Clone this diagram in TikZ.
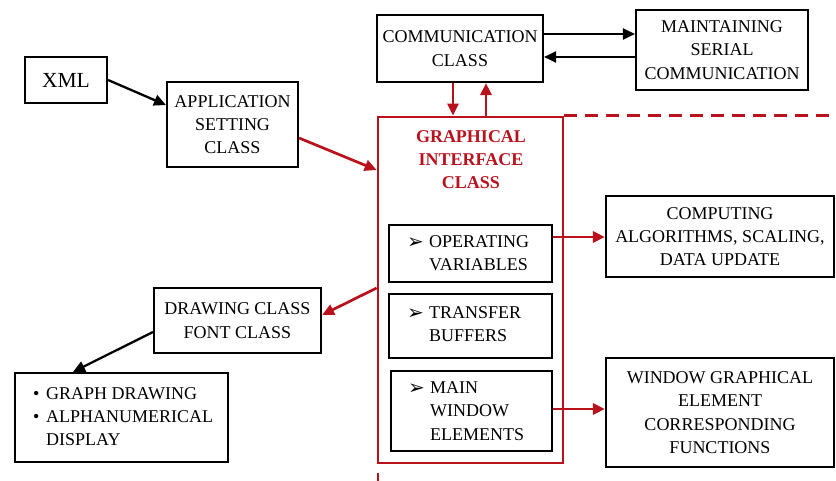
\documentclass[tikz,border=0pt]{standalone}
\usepackage{fontspec}
\setmainfont{Liberation Serif}
\newfontfamily\dejavu{DejaVu Sans}
\usetikzlibrary{arrows.meta}
\definecolor{dred}{RGB}{185,18,28}
\newcommand{\arrbul}{\raisebox{-1pt}{\dejavu\fontsize{20}{20}\selectfont ➢}}
\begin{document}
\begin{tikzpicture}[x=1pt,y=-1pt,
  txtfont/.style={font=\fontsize{18}{23.3}\selectfont},
  box/.style={draw=black, line width=2.1pt, align=center, inner sep=0pt, txtfont},
  redbox/.style={draw=dred, line width=2.7pt, inner sep=0pt},
  lbl/.style={inner sep=0pt, align=left, anchor=west, txtfont},
  blk/.style={draw=black, line width=2.3pt, -{Triangle[length=12pt,width=11pt]}},
  rd/.style={draw=dred, line width=2.7pt, -{Triangle[length=12pt,width=11pt]}},
]
\useasboundingbox (0,0) rectangle (836,481);

% boxes
\node[box, minimum width=82, minimum height=46, font=\fontsize{21.5}{24}\selectfont] (xml) at (66,80) {XML};
\node[box, minimum width=131, minimum height=85] (app) at (232.5,124.5) {APPLICATION\\SETTING\\CLASS};
\node[box, minimum width=166, minimum height=67] (comm) at (460,48.5) {COMMUNICATION\\CLASS};
\node[box, minimum width=172, minimum height=80] (maint) at (722,50) {MAINTAINING\\SERIAL\\COMMUNICATION};
\node[redbox, minimum width=185, minimum height=346] (gic) at (470.5,290) {};
\node[inner sep=0pt, align=center, text=dred, font=\fontsize{18}{23}\selectfont\bfseries] (gict) at (471,160) {GRAPHICAL\\INTERFACE\\CLASS};
\node[box, minimum width=163, minimum height=57] (op) at (470.5,253.5) {};
\node[box, minimum width=163, minimum height=64] (tb) at (470.5,326) {};
\node[box, minimum width=161, minimum height=80] (mw) at (471.5,411) {};
\node[lbl] (opt) at ([xshift=19pt]op.west) {\makebox[22pt][l]{\arrbul}OPERATING\\\hspace*{22pt}VARIABLES};
\node[lbl] (tbt) at ([xshift=19pt,yshift=2pt]tb.west) {\makebox[22pt][l]{\arrbul}TRANSFER\\\hspace*{22pt}BUFFERS};
\node[lbl] (mwt) at ([xshift=18pt]mw.west) {\makebox[22pt][l]{\arrbul}MAIN\\\hspace*{22pt}WINDOW\\\hspace*{22pt}ELEMENTS};
\node[box, minimum width=228, minimum height=81] (comp) at (720,236.5) {COMPUTING\\ALGORITHMS, SCALING,\\DATA UPDATE};
\node[box, minimum width=228, minimum height=109] (wg) at (720,412.5) {WINDOW GRAPHICAL\\ELEMENT\\CORRESPONDING\\FUNCTIONS};
\node[box, minimum width=167, minimum height=65] (draw) at (237.5,320.5) {DRAWING CLASS\\FONT CLASS};
\node[box, minimum width=213, minimum height=89] (gd) at (121.5,417.5) {};
\node[lbl] (gdt) at ([xshift=19pt,yshift=1pt]gd.west) {\makebox[13pt][l]{\textbullet}GRAPH DRAWING\\\makebox[13pt][l]{\textbullet}ALPHANUMERICAL\\\hspace*{13pt}DISPLAY};

% free ends
\coordinate (dashend) at (836,117);
\coordinate (stubtop) at (378,473);
\coordinate (stubbot) at (378,481);

% connectors
\draw[blk] (xml.east) -- ([yshift=19.5pt]app.west);
\draw[rd] ([yshift=-13.5pt]app.east) -- ([yshift=120pt]gic.west);
\draw[blk] ([yshift=14.5pt]comm.east) -- ([yshift=14.5pt]comm.east -| maint.west);
\draw[blk] ([yshift=-8.5pt]comm.east -| maint.west) -- ([yshift=-8.5pt]comm.east);
\draw[rd] ([xshift=-7pt]comm.south) -- ([xshift=-7pt]comm.south |- gic.north);
\draw[rd] ([xshift=26pt]comm.south |- gic.north) -- ([xshift=26pt]comm.south);
\draw[rd] ([yshift=16.5pt]op.east) -- ([yshift=16.5pt]op.east -| comp.west);
\draw[rd] ([yshift=2pt]mw.east) -- ([yshift=2pt]mw.east -| wg.west);
\draw[rd] ([yshift=2pt]gic.west) -- ([yshift=5.5pt]draw.east);
\draw[blk] ([yshift=-11.5pt]draw.west) -- ([xshift=-48.5pt]gd.north);
\draw[draw=dred, line width=2.7pt, dash pattern=on 13pt off 8pt] (gic.north east) -- (gic.north east -| dashend);
\draw[draw=dred, line width=2.5pt] (stubtop) -- (stubbot);
\end{tikzpicture}
\end{document}
